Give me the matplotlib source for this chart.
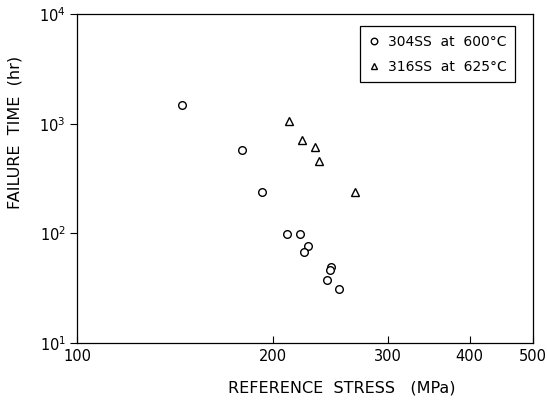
import matplotlib
matplotlib.use('Agg')
import matplotlib.pyplot as plt
from matplotlib.ticker import FixedLocator, NullLocator

# 304SS at 600 C (circles)
stress_304 = [145, 179, 192, 210, 220, 226, 223, 245, 244, 242, 252]
time_304 = [1490, 575, 238, 98, 98, 77, 68, 49, 46, 38, 31]

# 316SS at 625 C (triangles)
stress_316 = [211, 221, 232, 235, 267]
time_316 = [1070, 710, 620, 462, 238]

x_ticks = [100, 200, 300, 400, 500]
x_labels = ['100', '200', '300', '400', '500']
y_ticks = [10, 100, 1000, 10000]
y_labels = [r'$10^1$', r'$10^2$', r'$10^3$', r'$10^4$']

plt.rcParams['font.family'] = 'DejaVu Sans'

fig = plt.figure(figsize=(5.47, 4.11), dpi=100)
ax = fig.add_axes([77 / 547, 1 - 343 / 411, 456 / 547, 328.5 / 411])

ax.plot(stress_304, time_304, linestyle='none', marker='o', markersize=5.5,
        markerfacecolor='white', markeredgecolor='black', markeredgewidth=1,
        label='304SS  at  600°C')
ax.plot(stress_316, time_316, linestyle='none', marker='^', markersize=5.5,
        markerfacecolor='white', markeredgecolor='black', markeredgewidth=1,
        label='316SS  at  625°C')

ax.set_xscale('log')
ax.set_yscale('log')
ax.set_xlim(100, 500)
ax.set_ylim(10, 10000)

ax.xaxis.set_major_locator(FixedLocator(x_ticks))
ax.xaxis.set_minor_locator(NullLocator())
ax.set_xticklabels(x_labels)
ax.yaxis.set_major_locator(FixedLocator(y_ticks))
ax.yaxis.set_minor_locator(NullLocator())
ax.set_yticklabels(y_labels)

ax.tick_params(axis='x', direction='in', length=5, width=0.8, labelsize=10.5, pad=4)
ax.tick_params(axis='y', direction='out', length=5, width=0.8, labelsize=10.5, pad=3)
for s in ax.spines.values():
    s.set_linewidth(0.9)

ax.set_xlabel('REFERENCE  STRESS   (MPa)', fontsize=11.5)
ax.xaxis.set_label_coords(0.581, -0.115)
ax.set_ylabel('FAILURE  TIME  (hr)', fontsize=11.5)
ax.yaxis.set_label_coords(-0.12, 0.64)

leg = ax.legend(loc='upper right', bbox_to_anchor=(0.976, 0.985), fontsize=10,
                handlelength=0.8, handletextpad=0.6, borderpad=0.6,
                labelspacing=0.8, fancybox=False, framealpha=1, markerscale=0.85)
leg.get_frame().set_edgecolor('black')
leg.get_frame().set_linewidth(0.9)

fig.savefig('out.png', dpi=100)
